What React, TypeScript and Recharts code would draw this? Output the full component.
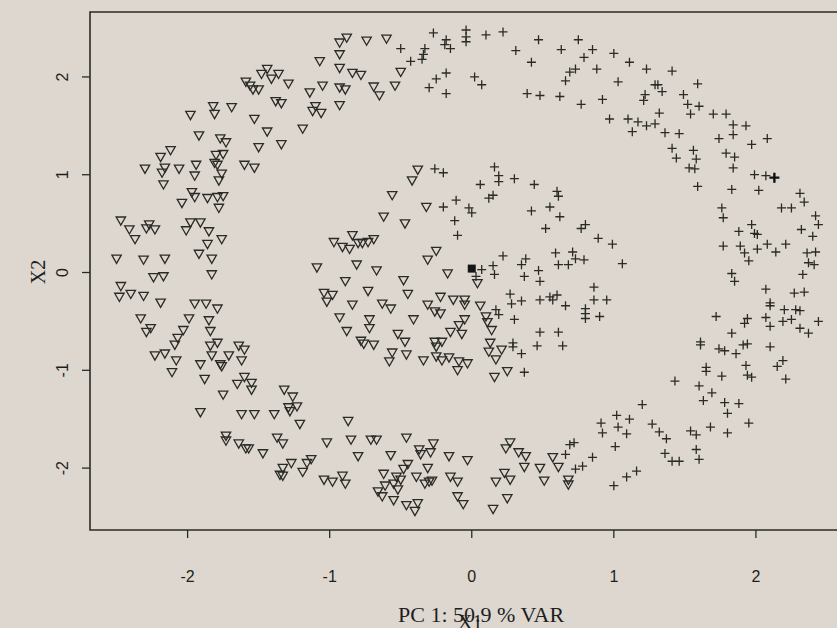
import {
  ScatterChart,
  Scatter,
  XAxis,
  YAxis,
  ReferenceArea,
} from "recharts";

// group 1 (down triangles)
const triangles: [number, number][] = [
  [-1.07, 2.16], [-1.44, 2.08], [-1.48, 2.03], [-1.36, 2.03], [-1.41, 1.98], [-1.29, 1.93],
  [-1.59, 1.95], [-1.56, 1.91], [-1.54, 1.87], [-1.5, 1.87], [-1.14, 1.84], [-1.05, 1.91],
  [-1.38, 1.75], [-1.34, 1.73], [-1.1, 1.7], [-1.06, 1.63], [-1.12, 1.65], [-1.82, 1.7],
  [-1.81, 1.62], [-1.69, 1.69], [-1.98, 1.61], [-1.53, 1.57], [-1.19, 1.47], [-1.44, 1.44],
  [-1.92, 1.4], [-1.77, 1.37], [-1.73, 1.33], [-1.5, 1.28], [-1.34, 1.31], [-2.12, 1.25],
  [-2.19, 1.18], [-1.8, 1.2], [-1.75, 1.21], [-2.3, 1.06], [-2.16, 1.07], [-2.18, 1.02],
  [-2.06, 1.06], [-1.94, 1.1], [-1.95, 0.99], [-1.81, 1.12], [-1.79, 1.1], [-1.76, 1.01],
  [-1.78, 0.94], [-1.6, 1.1], [-1.53, 1.07], [-2.17, 0.9], [-1.97, 0.82], [-1.95, 0.77],
  [-2.04, 0.71], [-1.86, 0.76], [-1.79, 0.77], [-1.75, 0.78], [-1.78, 0.66], [-2.47, 0.53],
  [-2.41, 0.44], [-2.37, 0.34], [-2.27, 0.49], [-2.29, 0.45], [-2.23, 0.44], [-2.01, 0.43],
  [-1.98, 0.51], [-1.91, 0.51], [-1.85, 0.42], [-1.86, 0.29], [-1.76, 0.34], [-1.92, 0.19],
  [-1.83, 0.14], [-1.83, -0.02], [-2.5, 0.14], [-2.31, 0.13], [-2.16, 0.14], [-2.24, -0.05],
  [-2.17, -0.04], [-0.97, 0.31], [-1.09, 0.05],
  [-0.88, 2.4], [-0.74, 2.37], [-0.6, 2.39], [-0.93, 2.35], [-0.93, 2.23], [-0.93, 2.09],
  [-0.93, 1.89], [-0.93, 1.71], [-0.84, 2.04], [-0.78, 2.02], [-0.5, 2.05], [-0.89, 1.87],
  [-0.69, 1.9], [-0.65, 1.81], [-0.54, 1.91], [-0.38, 1.05], [-0.42, 0.94], [-0.56, 0.79],
  [-0.32, 0.67], [-0.62, 0.57], [-0.47, 0.5], [-0.84, 0.38], [-0.91, 0.26], [-0.86, 0.24],
  [-0.8, 0.3], [-0.73, 0.31], [-0.69, 0.34], [-0.77, 0.3], [-0.25, 0.22], [-0.31, 0.13],
  [-0.81, 0.08], [-0.67, 0.02], [-0.48, -0.08], [-0.17, -0.01], [-0.89, -0.09], [0.04, -0.11],
  [-2.47, -0.14], [-2.48, -0.25], [-2.4, -0.22], [-2.31, -0.24], [-2.19, -0.31], [-1.95, -0.32],
  [-1.87, -0.32], [-1.79, -0.37], [-2.33, -0.47], [-2.26, -0.57], [-2.29, -0.61], [-1.99, -0.47],
  [-2.03, -0.59], [-2.07, -0.67], [-2.09, -0.74], [-1.85, -0.49], [-1.84, -0.6], [-2.23, -0.85],
  [-2.16, -0.83], [-2.08, -0.9], [-2.11, -1.02], [-1.91, -0.94], [-1.88, -1.09], [-1.84, -0.75],
  [-1.79, -0.72], [-1.83, -0.85], [-1.77, -0.94], [-1.76, -0.96], [-1.71, -0.85], [-1.64, -0.75],
  [-1.6, -0.79], [-1.62, -0.9], [-1.6, -1.07], [-1.65, -1.14], [-1.55, -1.13], [-1.55, -1.2],
  [-1.75, -1.25], [-1.91, -1.43], [-1.62, -1.45], [-1.53, -1.45], [-1.39, -1.45], [-1.32, -1.2],
  [-1.26, -1.27], [-1.23, -1.37], [-1.29, -1.38], [-1.28, -1.42], [-1.21, -1.55], [-1.73, -1.67],
  [-1.73, -1.72], [-1.64, -1.75], [-1.59, -1.8], [-1.57, -1.8], [-1.47, -1.85], [-1.37, -1.69],
  [-1.33, -1.75], [-1.02, -1.74], [-1.33, -2.0], [-1.27, -1.95], [-1.35, -2.07], [-1.33, -2.08],
  [-1.19, -2.04], [-1.16, -1.95], [-1.13, -1.91], [-1.04, -2.12], [-0.98, -2.14], [-1.04, -0.21],
  [-0.98, -0.23], [-1.02, -0.3], [-0.93, -0.46],
  [-0.73, -0.19], [-0.84, -0.33], [-0.63, -0.32], [-0.57, -0.37], [-0.45, -0.22], [-0.22, -0.25],
  [-0.13, -0.28], [-0.05, -0.28], [-0.05, -0.33], [-0.31, -0.33], [-0.26, -0.4], [-0.22, -0.42],
  [-0.72, -0.48], [-0.72, -0.57], [-0.41, -0.48], [-0.05, -0.48], [-0.09, -0.54], [-0.07, -0.63],
  [-0.15, -0.61], [-0.88, -0.6], [-0.78, -0.7], [-0.76, -0.73], [-0.69, -0.74], [-0.52, -0.63],
  [-0.47, -0.71], [-0.56, -0.82], [-0.58, -0.91], [-0.46, -0.84], [-0.34, -0.9], [-0.26, -0.71],
  [-0.25, -0.76], [-0.21, -0.71], [-0.25, -0.86], [-0.21, -0.9], [-0.16, -0.87], [-0.09, -0.91],
  [-0.03, -0.93], [-0.1, -1.0], [0.06, -0.34], [0.1, -0.45], [0.11, -0.51], [0.14, -0.59],
  [0.13, -0.72], [0.12, -0.81], [0.17, -0.89], [0.21, -0.79], [0.16, -1.07], [0.25, -1.01],
  [-0.87, -1.52], [-0.85, -1.71], [-0.71, -1.71], [-0.67, -1.71], [-0.8, -1.88], [-0.46, -1.69],
  [-0.57, -1.87], [-0.37, -1.81], [-0.36, -1.86], [-0.27, -1.75], [-0.29, -1.84], [-0.91, -2.08],
  [-0.89, -2.16], [-0.62, -2.06], [-0.61, -2.18], [-0.66, -2.24], [-0.63, -2.29], [-0.55, -2.16],
  [-0.53, -2.09], [-0.5, -2.12], [-0.48, -2.01], [-0.45, -1.96], [-0.52, -2.22], [-0.55, -2.33],
  [-0.46, -2.38], [-0.38, -2.36], [-0.4, -2.44], [-0.31, -2.0], [-0.39, -2.09], [-0.33, -2.16],
  [-0.3, -2.14], [-0.28, -2.13], [-0.16, -1.88], [-0.03, -1.92], [-0.15, -2.09], [-0.1, -2.14],
  [-0.1, -2.29], [-0.06, -2.37], [0.15, -2.42], [0.25, -2.31], [0.17, -2.14], [0.23, -2.05],
  [0.27, -2.12], [0.24, -1.8], [0.27, -1.74], [0.33, -1.84], [0.38, -1.88], [0.37, -1.99],
  [0.48, -2.0], [0.57, -1.89], [0.61, -1.99], [0.51, -2.13], [0.68, -2.12], [0.68, -2.17],
];

// group 2 (plus signs)
const crosses: [number, number][] = [
  [-0.27, 2.45], [-0.18, 2.38], [-0.19, 2.33], [-0.15, 2.29], [-0.04, 2.48], [-0.04, 2.41],
  [-0.04, 2.36], [0.1, 2.43], [0.22, 2.46], [-0.5, 2.29], [-0.33, 2.29], [-0.34, 2.23],
  [-0.35, 2.18], [-0.43, 2.16], [0.31, 2.27], [0.47, 2.38], [0.42, 2.15], [0.63, 2.28],
  [0.75, 2.38], [0.79, 2.2], [0.69, 2.05], [0.73, 2.08], [0.66, 1.96], [-0.18, 2.04],
  [-0.25, 1.98], [-0.3, 1.89], [-0.18, 1.83], [0.02, 2.0], [0.07, 1.92], [0.39, 1.83],
  [0.48, 1.81], [0.62, 1.8], [0.77, 1.72],
  [-0.26, 1.06], [-0.2, 1.02], [0.16, 1.08], [0.19, 0.99], [0.19, 0.93], [0.3, 0.96],
  [0.06, 0.9], [0.44, 0.9], [0.15, 0.79], [0.12, 0.76], [-0.11, 0.74], [-0.2, 0.67],
  [-0.02, 0.66], [0.0, 0.61], [-0.12, 0.53], [-0.1, 0.38], [0.42, 0.63], [0.55, 0.67],
  [0.6, 0.83], [0.61, 0.78], [0.62, 0.57], [0.52, 0.45], [0.77, 0.45], [0.8, 0.49],
  [0.22, 0.17], [0.07, 0.03], [0.15, 0.07], [0.16, -0.02], [0.03, -0.04], [0.35, 0.08],
  [0.38, 0.14], [0.37, -0.04], [0.47, 0.02], [0.48, -0.09], [0.59, 0.2], [0.71, 0.21],
  [0.61, 0.08], [0.68, 0.08], [0.73, 0.14], [0.79, 0.13],
  [0.85, 2.28], [1.0, 2.24], [0.88, 2.08], [1.11, 2.15], [1.23, 2.08], [1.41, 2.06],
  [1.03, 1.95], [1.59, 1.93], [0.92, 1.77], [1.29, 1.92], [1.31, 1.92], [1.34, 1.85],
  [1.22, 1.82], [1.21, 1.76], [1.49, 1.82], [1.52, 1.72], [1.6, 1.7], [1.54, 1.62],
  [1.32, 1.63], [0.97, 1.57], [1.1, 1.57], [1.17, 1.54], [1.23, 1.5], [1.29, 1.52],
  [1.13, 1.44], [1.36, 1.43], [1.46, 1.42], [1.7, 1.62], [1.79, 1.62], [1.84, 1.51],
  [1.93, 1.5], [1.84, 1.41], [1.74, 1.37], [2.08, 1.37], [1.97, 1.31], [1.41, 1.27],
  [1.44, 1.17], [1.56, 1.25], [1.58, 1.16], [1.53, 1.07], [1.57, 1.06], [1.59, 0.88],
  [1.79, 1.22], [1.85, 1.18], [1.84, 1.07], [1.99, 1.0], [2.07, 0.99], [1.83, 0.85],
  [2.02, 0.84], [1.76, 0.66], [1.77, 0.56], [2.31, 0.81], [2.34, 0.72], [2.18, 0.66],
  [2.25, 0.66], [2.42, 0.58], [2.44, 0.49], [2.32, 0.44], [2.4, 0.37], [1.97, 0.49],
  [1.99, 0.4], [2.01, 0.39], [1.88, 0.42], [1.77, 0.27], [1.89, 0.27], [2.01, 0.24],
  [2.08, 0.29], [2.14, 0.21], [2.21, 0.29], [1.92, 0.2], [1.95, 0.12], [2.36, 0.2],
  [2.42, 0.21], [2.37, 0.1], [2.41, 0.08], [2.33, -0.02], [1.83, -0.01], [1.85, -0.09],
  [0.89, 0.35], [0.99, 0.29], [1.06, 0.09],
  [0.27, -0.22], [0.28, -0.32], [0.35, -0.29], [0.48, -0.28], [0.55, -0.25], [0.57, -0.28],
  [0.6, -0.23], [0.66, -0.34], [0.8, -0.37], [0.8, -0.42], [0.8, -0.47], [0.17, -0.38],
  [0.19, -0.43], [0.3, -0.48], [0.48, -0.61], [0.61, -0.61], [0.29, -0.72], [0.29, -0.76],
  [0.35, -0.83], [0.46, -0.75], [0.64, -0.75], [0.37, -1.02], [0.72, -1.74], [0.69, -1.76],
  [0.66, -1.86], [0.73, -2.01], [0.78, -1.98],
  [0.86, -0.15], [0.86, -0.28], [0.95, -0.28], [0.9, -0.45], [2.07, -0.17], [2.27, -0.21],
  [2.34, -0.2], [2.1, -0.31], [2.1, -0.34], [2.2, -0.38], [2.28, -0.38], [2.31, -0.39],
  [2.25, -0.48], [2.19, -0.5], [2.07, -0.46], [2.1, -0.55], [2.31, -0.57], [2.37, -0.62],
  [2.44, -0.5], [1.94, -0.47], [1.92, -0.52], [1.72, -0.45], [1.83, -0.62], [1.61, -0.71],
  [1.61, -0.74], [1.74, -0.78], [1.78, -0.8], [1.86, -0.83], [1.91, -0.74], [1.94, -0.73],
  [2.1, -0.76], [2.19, -0.9], [2.15, -0.96], [2.21, -1.09], [1.93, -0.95], [1.94, -1.05],
  [1.97, -1.07], [1.65, -0.97], [1.65, -1.01], [1.76, -1.06], [1.6, -1.16], [1.69, -1.23],
  [1.63, -1.31], [1.43, -1.11], [1.78, -1.33], [1.88, -1.34], [1.8, -1.44], [1.95, -1.54],
  [1.8, -1.64], [1.68, -1.58], [1.54, -1.62], [1.58, -1.66], [1.58, -1.81], [1.6, -1.91],
  [1.2, -1.35], [1.02, -1.46], [1.11, -1.5], [0.91, -1.54], [0.92, -1.64], [1.03, -1.58],
  [1.09, -1.65], [1.01, -1.78], [0.85, -1.89], [1.27, -1.55], [1.32, -1.63], [1.37, -1.7],
  [1.36, -1.85], [1.41, -1.93], [1.46, -1.93], [1.16, -2.03], [1.09, -2.09], [1.0, -2.18],
];

// the two centres
const centreSquare: [number, number][] = [[0.0, 0.04]];
const centrePlus: [number, number][] = [[2.13, 0.97]];

const xTicks = [-2, -1, 0, 1, 2];
const yTicks = [-2, -1, 0, 1, 2];
const xDomain: [number, number] = [-2.687, 2.62];
const yDomain: [number, number] = [-2.633, 2.664];

const ink = "#2a2b27";
const bg = "#ddd7cf";

const toPts = (arr: [number, number][]) => arr.map(([x, y]) => ({ x, y }));

const Triangle = (props: any) => {
  const { cx, cy } = props;
  if (cx == null || cy == null) return null;
  return (
    <path
      d={`M${cx - 4.7},${cy - 3.7} L${cx + 4.7},${cy - 3.7} L${cx},${cy + 4.5} Z`}
      fill="none"
      stroke={ink}
      strokeWidth={1.3}
    />
  );
};

const Plus = (props: any) => {
  const { cx, cy } = props;
  if (cx == null || cy == null) return null;
  return (
    <path
      d={`M${cx - 4.5},${cy} L${cx + 4.5},${cy} M${cx},${cy - 4.5} L${cx},${cy + 4.5}`}
      stroke={ink}
      strokeWidth={1.3}
    />
  );
};

const BoldPlus = (props: any) => {
  const { cx, cy } = props;
  if (cx == null || cy == null) return null;
  return (
    <path
      d={`M${cx - 5},${cy} L${cx + 5},${cy} M${cx},${cy - 5} L${cx},${cy + 5}`}
      stroke="#111"
      strokeWidth={2.4}
    />
  );
};

const Square = (props: any) => {
  const { cx, cy } = props;
  if (cx == null || cy == null) return null;
  return <rect x={cx - 4} y={cy - 4} width={8} height={8} fill="#151515" />;
};

const XTick = (props: any) => {
  const { x, y, payload } = props;
  return (
    <text
      x={x}
      y={y + 44}
      textAnchor="middle"
      fontSize={16}
      fontFamily="'Liberation Sans', Arial, sans-serif"
      fill="#1e1e1e"
    >
      {payload.value}
    </text>
  );
};

const YTick = (props: any) => {
  const { x, y, payload } = props;
  return (
    <text
      transform={`translate(${x - 14},${y}) rotate(-90)`}
      textAnchor="middle"
      fontSize={16}
      fontFamily="'Liberation Sans', Arial, sans-serif"
      fill="#1e1e1e"
    >
      {payload.value}
    </text>
  );
};

export default function App() {
  const serif = "'Liberation Serif', 'Times New Roman', serif";
  return (
    <div
      style={{
        position: "fixed",
        left: 0,
        top: 0,
        width: 837,
        height: 628,
        overflow: "hidden",
        background: bg,
      }}
    >
      <ScatterChart
        width={850}
        height={628}
        margin={{ top: 12, right: 6, bottom: 38, left: 0 }}
      >
        <XAxis
          type="number"
          dataKey="x"
          domain={xDomain}
          allowDataOverflow
          ticks={xTicks}
          axisLine={false}
          tickLine={{ stroke: ink, strokeWidth: 1.3 }}
          tickSize={8}
          tickMargin={0}
          height={60}
          tick={<XTick />}
        />
        <YAxis
          type="number"
          dataKey="y"
          domain={yDomain}
          allowDataOverflow
          ticks={yTicks}
          axisLine={false}
          tickLine={{ stroke: ink, strokeWidth: 1.3 }}
          tickSize={8}
          tickMargin={0}
          width={90}
          tick={<YTick />}
        />
        <ReferenceArea
          x1={xDomain[0]}
          x2={xDomain[1]}
          y1={yDomain[0]}
          y2={yDomain[1]}
          fill="none"
          fillOpacity={0}
          stroke={ink}
          strokeWidth={1.6}
          ifOverflow="visible"
        />
        <Scatter data={toPts(triangles)} shape={<Triangle />} isAnimationActive={false} />
        <Scatter data={toPts(crosses)} shape={<Plus />} isAnimationActive={false} />
        <Scatter data={toPts(centrePlus)} shape={<BoldPlus />} isAnimationActive={false} />
        <Scatter data={toPts(centreSquare)} shape={<Square />} isAnimationActive={false} />
      </ScatterChart>
      <div
        style={{
          position: "absolute",
          left: 398,
          top: 602,
          fontFamily: serif,
          fontSize: 22,
          color: "#1e1e1e",
          whiteSpace: "nowrap",
        }}
      >
        PC 1: 50.9 % VAR
      </div>
      <div
        style={{
          position: "absolute",
          left: 458,
          top: 611,
          fontFamily: serif,
          fontSize: 20,
          color: "#1e1e1e",
          whiteSpace: "nowrap",
        }}
      >
        X1
      </div>
      <div
        style={{
          position: "absolute",
          left: 38,
          top: 272,
          transform: "translate(-50%, -50%) rotate(-90deg)",
          fontFamily: serif,
          fontSize: 20,
          color: "#1e1e1e",
        }}
      >
        X2
      </div>
    </div>
  );
}
